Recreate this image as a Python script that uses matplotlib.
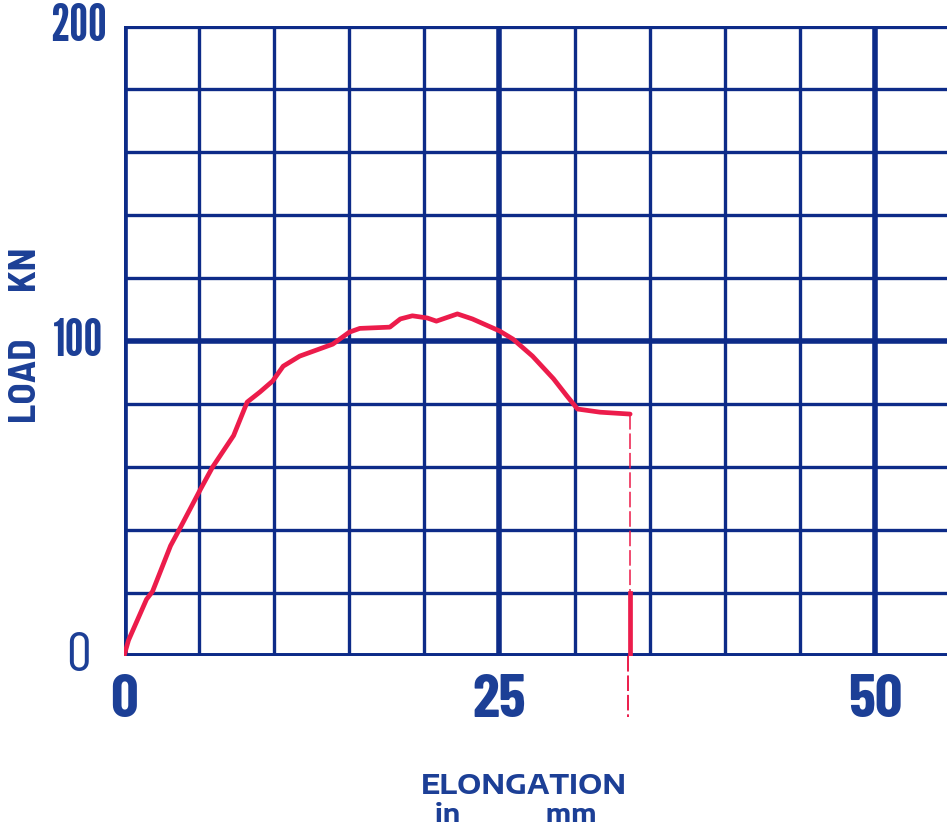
import matplotlib
matplotlib.use('Agg')
import matplotlib.pyplot as plt
from matplotlib import font_manager

# Load-elongation curve
elongation_mm = [0, 0.3, 1.5, 1.9, 3.1, 3.7, 5.1, 5.9, 7.3, 8.2, 9.05, 9.9, 10.6,
                 11.7, 13.9, 15.0, 15.7, 17.7, 18.4, 19.2, 20.2, 20.8, 22.2, 23.2,
                 25.0, 25.9, 27.2, 28.6, 29.5, 30.2, 31.7, 33.7]
load_kn = [0, 5, 18, 20.5, 35, 40.3, 53, 60, 70, 80.6, 83.8, 87.3, 92,
           95.2, 99, 102.8, 104, 104.4, 107, 108, 107.3, 106.3, 108.6, 107,
           103.2, 100.6, 95.2, 88, 82.5, 78.4, 77.4, 76.8]

# Fracture drop at the end of the test
fracture_x = 33.7
fracture_upper = [76.8, 20]     # faint pen trace
fracture_lower = [20, 0]        # heavy trace
fracture_tail = [0, -19.5]      # trace running off below the axis

x_ticks = [0, 25, 50]
y_ticks = [0, 100, 200]

grid_col = '#0d2b88'
text_col = '#1c3f96'
pen_col = '#ec1c4b'

installed = {f.name for f in font_manager.fontManager.ttflist}


def pick(cands):
    for c in cands:
        if c in installed:
            return [c, 'DejaVu Sans']
    return ['DejaVu Sans']


cond_font = pick(['Barlow Condensed', 'Archivo Narrow', 'Liberation Sans Narrow'])
tall_font = pick(['League Gothic', 'Antonio', 'Bebas Neue', 'Barlow Condensed'])
semi_font = pick(['Barlow Semi Condensed', 'Barlow Condensed', 'Archivo Narrow'])
wide_font = pick(['Encode Sans Expanded', 'Archivo Expanded', 'Saira Expanded',
                  'Michroma', 'Krona One', 'DejaVu Sans'])

fig = plt.figure(figsize=(9.47, 8.28), dpi=100)
fig.patch.set_facecolor('white')
ax = fig.add_axes([124 / 947, 171 / 828, 826 / 947, 630 / 828])
ax.set_xlim(0, 55)
ax.set_ylim(0, 200)
for s in ax.spines.values():
    s.set_visible(False)

# graph paper grid
for gx in range(5, 56, 5):
    lw = 4.0 if gx % 25 == 0 else 2.4
    ax.axvline(gx, color=grid_col, lw=lw, zorder=1)
for gy in range(20, 200, 20):
    lw = 4.0 if gy == 100 else 2.4
    ax.axhline(gy, color=grid_col, lw=lw, zorder=1)
ax.axvline(0, color=grid_col, lw=5.5, zorder=1)
ax.axhline(0, color=grid_col, lw=5.0, zorder=1)
ax.axhline(200, color=grid_col, lw=4.5, zorder=1)

# the recorded curve
ax.plot(elongation_mm, load_kn, color=pen_col, lw=3.4, solid_capstyle='round',
        solid_joinstyle='round', zorder=3)
ax.plot([fracture_x] * 2, fracture_upper, color=pen_col, lw=1.4,
        ls=(0, (8, 2)), alpha=0.8, zorder=3)
ax.plot([fracture_x] * 2, fracture_lower, color=pen_col, lw=3.4, zorder=3)
ax.plot([fracture_x - 0.15] * 2, fracture_tail, color=pen_col, lw=1.4,
        ls=(0, (8, 2)), clip_on=False, zorder=3)

# ticks
ax.set_xticks(x_ticks)
ax.set_xticklabels([str(v) for v in x_ticks])
ax.set_yticks(y_ticks)
ax.set_yticklabels([str(v) for v in y_ticks])
ax.tick_params(length=0, colors=text_col)
ax.tick_params(axis='x', pad=12)
ax.tick_params(axis='y', pad=33)
for lab in ax.get_xticklabels():
    lab.set_fontfamily(cond_font)
    lab.set_fontsize(44)
    lab.set_fontweight('bold')
for lab in ax.get_yticklabels():
    lab.set_fontfamily(tall_font)
    lab.set_fontsize(38)
    lab.set_fontweight('bold')
    lab.set_ha('center')
    lab.set_va('center')
ax.get_yticklabels()[0].set_fontfamily(cond_font)
ax.get_yticklabels()[0].set_fontweight('normal')
ax.get_yticklabels()[0].set_fontsize(40)

# squeeze the y labels to roughly the width they take on the paper
renderer = fig.canvas.get_renderer()
w200 = ax.get_yticklabels()[2].get_window_extent(renderer).width
if w200 > 64:
    for lab in ax.get_yticklabels()[1:]:
        lab.set_fontsize(lab.get_fontsize() * 64 / w200)

# axis titles
ax.set_ylabel('LOAD      KN', family=semi_font, fontsize=28, fontweight='bold',
              color=text_col, va='center')
ax.yaxis.set_label_coords(-98 / 826, 0.51)

t1 = fig.text(524 / 947, 1 - 786 / 828, 'ELONGATION', ha='center', va='center',
              family=wide_font, fontweight='bold', fontsize=18, color=text_col)
t2 = fig.text(516 / 947, 1 - 815 / 828, 'in            mm', ha='center', va='center',
              family=wide_font, fontweight='bold', fontsize=16, color=text_col)

# size the bottom title lines to the width they take on the paper
for t, target, cap in [(t1, 298, 19.5), (t2, 168, 18)]:
    w = t.get_window_extent(renderer).width
    t.set_fontsize(min(t.get_fontsize() * target / w, cap))

fig.savefig('out.png', dpi=100, facecolor='white')
